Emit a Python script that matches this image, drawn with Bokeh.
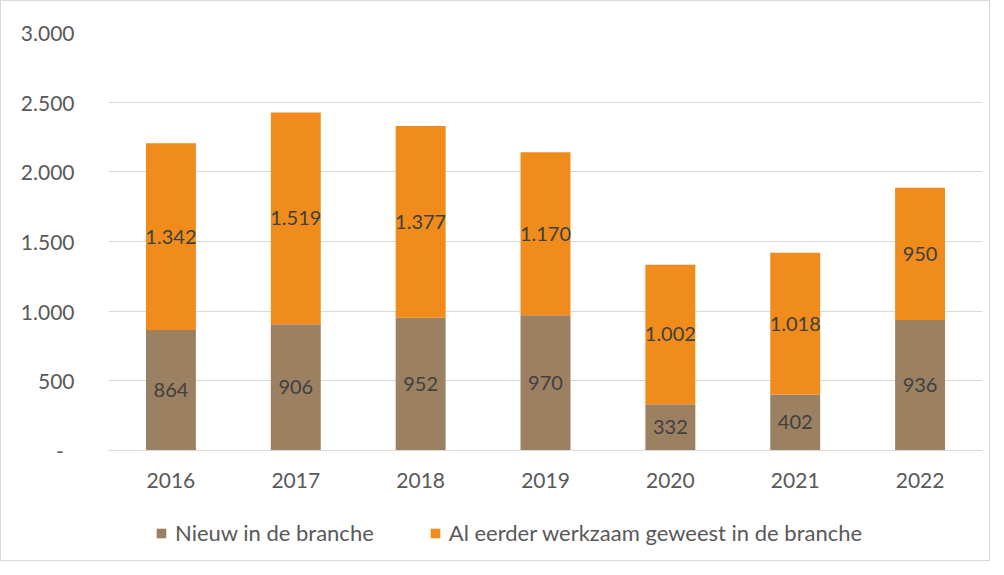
from bokeh.plotting import figure
from bokeh.layouts import column
from bokeh.models import ColumnDataSource, Range1d, FixedTicker, Legend, LegendItem
from bokeh.core.properties import value
from bokeh.embed import file_html
from bokeh.resources import INLINE

years = ["2016", "2017", "2018", "2019", "2020", "2021", "2022"]
nieuw = [864, 906, 952, 970, 332, 402, 936]
eerder = [1342, 1519, 1377, 1170, 1002, 1018, 950]
y_ticks = [0, 500, 1000, 1500, 2000, 2500, 3000]
y_tick_labels = ["-\u00a0\u00a0", "500", "1.000", "1.500", "2.000", "2.500", "3.000"]

names = ["Nieuw in de branche", "Al eerder werkzaam geweest in de branche"]
colors = ["#9C8062", "#EF8C1C"]
FONT = "Lato"

def fmt(v):
    return f"{v:,}".replace(",", ".")

src = ColumnDataSource(dict(
    years=years, nieuw=nieuw, eerder=eerder,
    y_nieuw=[n / 2 for n in nieuw],
    y_eerder=[n + e / 2 for n, e in zip(nieuw, eerder)],
    l_nieuw=[fmt(v) for v in nieuw],
    l_eerder=[fmt(v) for v in eerder],
))

p = figure(width=988, height=515, x_range=years, y_range=Range1d(0, 3000),
           output_backend="svg", toolbar_location=None,
           min_border_left=107, min_border_right=7, min_border_top=31,
           min_border_bottom=66)
p.outline_line_color = None
p.background_fill_color = "white"

r = p.vbar_stack(["nieuw", "eerder"], x="years", width=0.4, color=colors,
                 source=src, line_color=None)

for ycol, tcol in (("y_nieuw", "l_nieuw"), ("y_eerder", "l_eerder")):
    p.text(x="years", y=ycol, text=tcol, source=src, text_align="center",
           text_baseline="middle", text_font=value(FONT), text_font_size="20px",
           text_color="#404040")

p.xgrid.grid_line_color = None
p.ygrid.grid_line_color = "#d9d9d9"
p.ygrid.ticker = FixedTicker(ticks=y_ticks)

p.yaxis.ticker = FixedTicker(ticks=y_ticks)
p.yaxis.major_label_overrides = {t: l for t, l in zip(y_ticks, y_tick_labels)}
p.yaxis.axis_line_color = None
p.yaxis.major_tick_line_color = None
p.yaxis.minor_tick_line_color = None
p.yaxis.major_label_standoff = 28

p.xaxis.axis_line_color = "#d9d9d9"
p.xaxis.major_tick_line_color = None
p.xaxis.minor_tick_line_color = None
p.xaxis.major_label_standoff = 16

for ax in (p.xaxis, p.yaxis):
    ax.major_label_text_font = FONT
    ax.major_label_text_font_size = "21px"
    ax.major_label_text_color = "#595959"

# legend strip below the chart (same data, drawn outside its visible range)
q = figure(width=988, height=44, x_range=p.x_range, y_range=Range1d(10000, 10001),
           output_backend="svg", toolbar_location=None,
           min_border_left=0, min_border_right=0, min_border_top=0,
           min_border_bottom=0)
q.outline_line_color = None
q.axis.visible = False
q.grid.visible = False
rq = q.vbar_stack(["nieuw", "eerder"], x="years", width=0.4, color=colors,
                  source=src, line_color=None)

legend = Legend(items=[LegendItem(label=names[i], renderers=[rq[i]]) for i in range(2)],
                orientation="horizontal", location=(47, 14),
                label_text_font=FONT, label_text_font_size="22px",
                label_text_color="#595959", glyph_width=12, glyph_height=12,
                label_standoff=8, spacing=55, border_line_color=None,
                background_fill_alpha=0, margin=0, padding=0)
q.add_layout(legend, "center")

layout = column(p, q, spacing=0)
layout.styles = {"border": "1px solid #d9d9d9"}

open("out.html", "w").write(file_html(layout, INLINE))
